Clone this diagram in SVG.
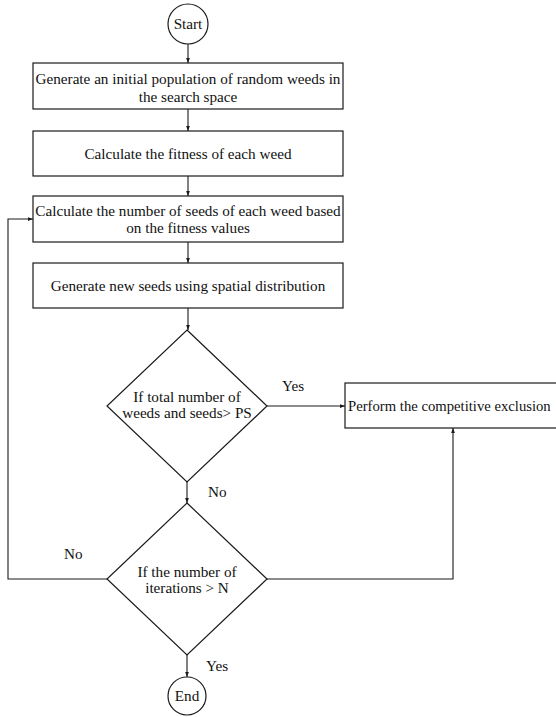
<svg xmlns="http://www.w3.org/2000/svg" width="556" height="717" viewBox="0 0 556 717">
<style>
.s{fill:#fff;stroke:#1a1a1a;stroke-width:1.2}
text{font-family:'Liberation Serif','Tinos','DejaVu Serif',serif;font-size:15.2px;fill:#111}
.t{text-anchor:middle}
.c{fill:none;stroke:#1a1a1a;stroke-width:1.1}
</style>
<defs>
<marker id="a" viewBox="0 0 8 8" refX="8" refY="4" markerWidth="5" markerHeight="5" orient="auto" markerUnits="userSpaceOnUse">
<path d="M0,1 L8,4 L0,7 Z" fill="#1a1a1a"/>
</marker>
</defs>
<rect width="556" height="717" fill="#fff"/>
<g id="connectors">
<path class="c" d="M188,44 V63" marker-end="url(#a)"/>
<path class="c" d="M188,109 V131" marker-end="url(#a)"/>
<path class="c" d="M188,176 V196" marker-end="url(#a)"/>
<path class="c" d="M188,242 V263" marker-end="url(#a)"/>
<path class="c" d="M188,308 V330" marker-end="url(#a)"/>
<path class="c" d="M267,406 H345" marker-end="url(#a)"/>
<path class="c" d="M187,482 V503" marker-end="url(#a)"/>
<path class="c" d="M267,579 H453 V428" marker-end="url(#a)"/>
<path class="c" d="M107,579 H8 V219 H33" marker-end="url(#a)"/>
<path class="c" d="M187,655 V677" marker-end="url(#a)"/>
<text x="282" y="391">Yes</text>
<text x="208" y="497">No</text>
<text x="64" y="559">No</text>
<text x="206" y="671">Yes</text>
</g>
<g id="start">
<circle class="s" cx="188" cy="24" r="20"/>
<text class="t" x="188" y="29">Start</text>
</g>
<g id="init">
<rect class="s" x="33" y="63" width="310" height="46"/>
<text class="t" x="188" y="84">Generate an initial population of random weeds in</text>
<text class="t" x="188" y="102">the search space</text>
</g>
<g id="fitness">
<rect class="s" x="33" y="131" width="310" height="45"/>
<text class="t" x="188" y="159">Calculate the fitness of each weed</text>
</g>
<g id="seeds">
<rect class="s" x="33" y="196" width="310" height="46"/>
<text class="t" x="188" y="216">Calculate the number of seeds of each weed based</text>
<text class="t" x="188" y="233">on the fitness values</text>
</g>
<g id="newseeds">
<rect class="s" x="33" y="263" width="310" height="45"/>
<text class="t" x="188" y="291">Generate new seeds using spatial distribution</text>
</g>
<g id="check-ps">
<polygon class="s" points="187,330 267,406 187,482 107,406"/>
<text class="t" x="187" y="402">If total number of</text>
<text class="t" x="187" y="418">weeds and seeds&gt; PS</text>
</g>
<g id="exclusion">
<rect class="s" x="345" y="383" width="220" height="45"/>
<text x="348" y="411" style="font-size:14.7px">Perform the competitive exclusion</text>
</g>
<g id="check-iter">
<polygon class="s" points="187,503 267,579 187,655 107,579"/>
<text class="t" x="187" y="577">If the number of</text>
<text class="t" x="187" y="593">iterations &gt; N</text>
</g>
<g id="end">
<circle class="s" cx="187" cy="696" r="19"/>
<text class="t" x="187" y="701">End</text>
</g>
</svg>
